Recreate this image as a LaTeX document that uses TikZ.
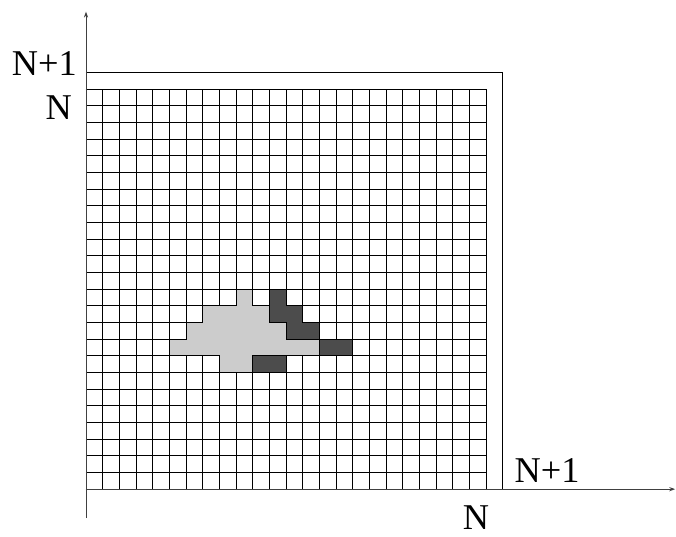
\documentclass[tikz,border=0pt]{standalone}
\usepackage{fontspec}
\setmainfont{Liberation Serif}
\usepackage{tikz}
\usetikzlibrary{arrows.meta,positioning}
\definecolor{lightcell}{gray}{0.8}
\definecolor{darkcell}{gray}{0.3}
\tikzset{
  lab/.style={font=\fontsize{31}{36}\selectfont, inner sep=0pt},
  axis/.style={line width=0.7pt, black!75, -{Stealth[length=5pt,width=3.5pt]}},
  cluster/.style={draw=black, line width=0.8pt}
}
\begin{document}
\begin{tikzpicture}[scale=0.5]
    \useasboundingbox (-5.16,-2.86) rectangle (35.4,29.35);

    % grid N x N
    \draw[line width=0.8pt] (0,0) grid (24,24);
    \draw[line width=1.1pt] (0,24) -- (24,24);

    % light cluster
    \filldraw[cluster, fill=lightcell] (5,8) -- (8,8) -- (8,7) -- (10,7) -- (10,8) -- (14,8) -- (14,9)
        -- (12,9) -- (12,10) -- (11,10) -- (11,11) -- (10,11) -- (10,12) -- (9,12)
        -- (9,11) -- (7,11) -- (7,10) -- (6,10) -- (6,9) -- (5,9) -- cycle;

    % dark boundary cells
    \filldraw[cluster, fill=darkcell] (11,12) -- (12,12) -- (12,11) -- (13,11) -- (13,10)
        -- (14,10) -- (14,9) -- (12,9) -- (12,10) -- (11,10) -- cycle;
    \filldraw[cluster, fill=darkcell] (14,8) rectangle (16,9);
    \filldraw[cluster, fill=darkcell] (10,7) rectangle (12,8);

    % N+1 border
    \draw[line width=0.8pt] (0,25) -- (25,25) -- (25,0);

    % axes
    \coordinate (o) at (0,0);
    \coordinate (ybot) at (0,-1.74);
    \coordinate (ytop) at (0,28.65);
    \coordinate (xend) at (35.35,0);
    \draw[axis] (ybot) -- (ytop);
    \draw[axis] (o) -- (xend);

    % labels
    \node[lab, anchor=base east] (ylabA) at (-0.54,24.8) {N+1};
    \node[lab, anchor=base east] (ylabB) at (-0.84,22.15) {N};
    \node[lab, anchor=base west] (xlabA) at (25.7,0.38) {N+1};
    \node[lab, anchor=base east] (xlabB) at (24.2,-2.4) {N};
\end{tikzpicture}
\end{document}
